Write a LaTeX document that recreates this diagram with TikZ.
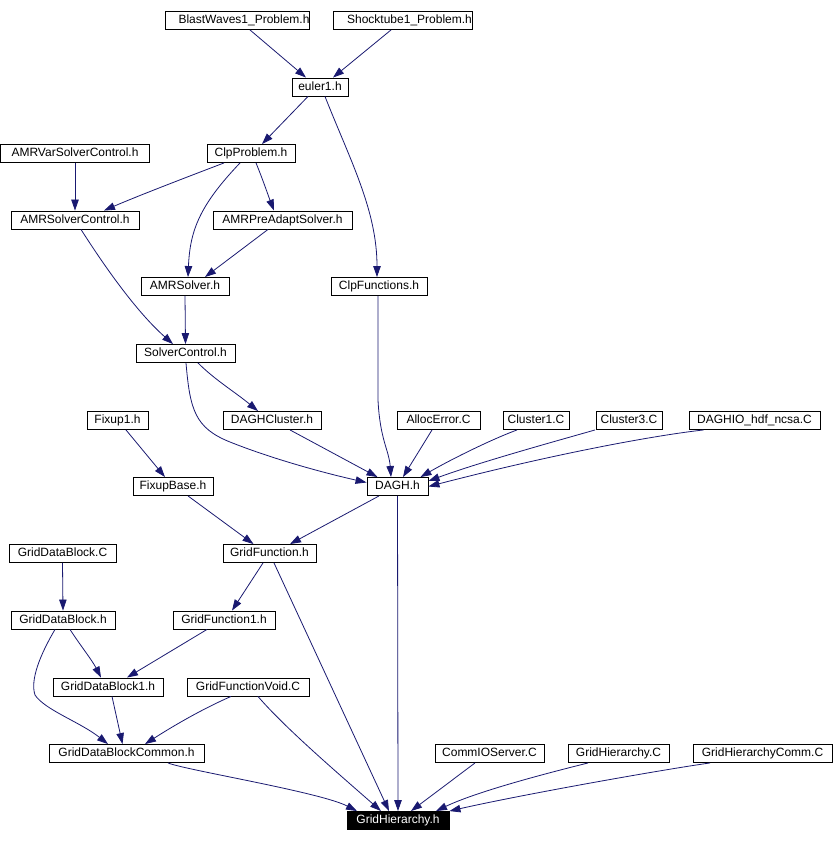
\documentclass[tikz,border=0pt]{standalone}
\usepackage{fontspec}
\setmainfont{Liberation Sans}
\usetikzlibrary{arrows.meta}
\definecolor{edgeblue}{HTML}{191970}
\tikzset{
  fbox/.style={draw=black, line width=0.9pt, inner sep=0pt, minimum height=18pt,
    text height=8.6pt, text depth=2.5pt, font=\fontsize{12}{14}\selectfont, fill=white},
  rootbox/.style={fbox, fill=black, text=white},
  dep/.style={draw=edgeblue, line width=0.8pt, -{Triangle[length=11pt,width=7.5pt]}},
}
\begin{document}
\begin{tikzpicture}[x=1pt,y=-1pt]
\useasboundingbox (0,0) rectangle (834,842);
% nodes
\node[fbox, minimum width=144pt] (bw)   at (237,20.5) {\hspace*{14pt}\makebox[0pt]{BlastWaves1\_Problem.h}};
\node[fbox, minimum width=139pt] (st)   at (402.5,20.5) {\hspace*{14pt}\makebox[0pt]{Shocktube1\_Problem.h}};
\node[fbox, minimum width=56pt]  (eul)  at (320,87) {euler1.h};
\node[fbox, minimum width=149pt] (avsc) at (75,153.5) {AMRVarSolverControl.h};
\node[fbox, minimum width=88pt]  (clpp) at (251,153.5) {ClpProblem.h};
\node[fbox, minimum width=128pt] (asc)  at (75,220) {AMRSolverControl.h};
\node[fbox, minimum width=139pt] (apas) at (282.5,220) {AMRPreAdaptSolver.h};
\node[fbox, minimum width=88pt]  (as)   at (185,286.5) {AMRSolver.h};
\node[fbox, minimum width=96pt]  (clpf) at (379,286.5) {ClpFunctions.h};
\node[fbox, minimum width=99pt]  (sc)   at (185.5,353.5) {SolverControl.h};
\node[fbox, minimum width=61pt]  (fx1)  at (117.5,420.5) {Fixup1.h};
\node[fbox, minimum width=98pt]  (dc)   at (272,420.5) {DAGHCluster.h};
\node[fbox, minimum width=83pt]  (ae)   at (438.5,420.5) {AllocError.C};
\node[fbox, minimum width=66pt]  (c1)   at (536,420.5) {Cluster1.C};
\node[fbox, minimum width=66pt]  (c3)   at (629,420.5) {Cluster3.C};
\node[fbox, minimum width=131pt] (dio)  at (754.5,420.5) {DAGHIO\_hdf\_ncsa.C};
\node[fbox, minimum width=80pt]  (fxb)  at (173,486.5) {FixupBase.h};
\node[fbox, minimum width=61pt]  (dagh) at (397.5,486.5) {DAGH.h};
\node[fbox, minimum width=107pt] (gdbc) at (62.5,553.5) {GridDataBlock.C};
\node[fbox, minimum width=93pt]  (gf)   at (269.5,553.5) {GridFunction.h};
\node[fbox, minimum width=104pt] (gdbh) at (63,620) {GridDataBlock.h};
\node[fbox, minimum width=102pt] (gf1)  at (224,620) {GridFunction1.h};
\node[fbox, minimum width=110pt] (gdb1) at (108,687) {GridDataBlock1.h};
\node[fbox, minimum width=122pt] (gfv)  at (248,687) {GridFunctionVoid.C};
\node[fbox, minimum width=155pt] (gdbx) at (126.5,753.5) {GridDataBlockCommon.h};
\node[fbox, minimum width=109pt] (cio)  at (489.5,753.5) {CommIOServer.C};
\node[fbox, minimum width=101pt] (ghc)  at (618.5,753.5) {GridHierarchy.C};
\node[fbox, minimum width=139pt] (ghcc) at (762.5,753.5) {GridHierarchyComm.C};
\node[rootbox, minimum width=102pt] (gh) at (398,820.5) {GridHierarchy.h};
% edges
\draw[dep] ([xshift=13pt]bw.south) -- ([xshift=-14pt]eul.north);
\draw[dep] ([xshift=-11.5pt]st.south) -- ([xshift=13pt]eul.north);
\draw[dep] ([xshift=-12pt]eul.south) -- ([xshift=11pt]clpp.north);
\draw[dep] ([xshift=5pt]eul.south) .. controls (350,160) and (377,210) .. ([xshift=-2pt]clpf.north);
\draw[dep] (avsc.south) -- (asc.north);
\draw[dep] ([xshift=-27pt]clpp.south) .. controls (195,174) and (140,195) .. ([xshift=29pt]asc.north);
\draw[dep] ([xshift=-11pt]clpp.south) .. controls (200,205) and (190,230) .. ([xshift=3pt]as.north);
\draw[dep] ([xshift=5pt]clpp.south) .. controls (263,180) and (268,195) .. ([xshift=-8.5pt]apas.north);
\draw[dep] ([xshift=-14.5pt]apas.south) -- ([xshift=20pt]as.north);
\draw[dep] ([xshift=6pt]asc.south) .. controls (110,275) and (140,315) .. ([xshift=-12.5pt]sc.north);
\draw[dep] (as.south) -- (sc.north);
\draw[dep] ([xshift=12.5pt]sc.south) .. controls (215,380) and (235,392) .. ([xshift=-14pt]dc.north);
\draw[dep] ([xshift=0.5pt]sc.south) .. controls (190,410) and (195,428) .. (230,442)
  .. controls (270,458) and (320,472) .. ([yshift=4pt]dagh.west);
\draw[dep] ([xshift=-1pt]clpf.south) -- (378,400) .. controls (380,440) and (389,450) .. ([xshift=-6.5pt]dagh.north);
\draw[dep] ([xshift=18pt]dc.south) -- ([xshift=-20pt]dagh.north);
\draw[dep] ([xshift=-6.5pt]ae.south) -- ([xshift=5.5pt]dagh.north);
\draw[dep] ([xshift=-19pt]c1.south) .. controls (490,440) and (450,460) .. ([xshift=23pt]dagh.north);
\draw[dep] ([xshift=-34pt]c3.south) .. controls (560,440) and (480,462) .. ([yshift=5.5pt]dagh.east);
\draw[dep] ([xshift=-51pt]dio.south) .. controls (650,436) and (550,455) .. ([yshift=0pt]dagh.east);
\draw[dep] ([xshift=8.5pt]fx1.south) -- ([xshift=-8pt]fxb.north);
\draw[dep] ([xshift=15pt]fxb.south) -- ([xshift=-16pt]gf.north);
\draw[dep] ([xshift=-18.5pt]dagh.south) -- ([xshift=20.5pt]gf.north);
\draw[dep] (dagh.south) -- (gh.north);
\draw[dep] (gdbc.south) -- (gdbh.north);
\draw[dep] ([xshift=-6.5pt]gf.south) -- ([xshift=8pt]gf1.north);
\draw[dep] ([xshift=4.5pt]gf.south) -- ([xshift=-9pt]gh.north);
\draw[dep] ([xshift=7pt]gdbh.south) .. controls (80,645) and (92,660) .. ([xshift=-7pt]gdb1.north);
\draw[dep] ([xshift=-8pt]gdbh.south) .. controls (40,655) and (30,680) .. (35,695)
  .. controls (45,710) and (80,722) .. ([xshift=-18.5pt]gdbx.north);
\draw[dep] ([xshift=-17pt]gf1.south) -- ([xshift=19pt]gdb1.north);
\draw[dep] ([xshift=4pt]gdb1.south) -- ([xshift=-4pt]gdbx.north);
\draw[dep] ([xshift=-17pt]gfv.south) .. controls (200,710) and (170,728) .. ([xshift=18.5pt]gdbx.north);
\draw[dep] ([xshift=10pt]gfv.south) .. controls (285,728) and (340,775) .. ([xshift=-17pt]gh.north);
\draw[dep] ([xshift=41.5pt]gdbx.south) .. controls (185,770) and (320,792) .. ([xshift=-41pt]gh.north);
\draw[dep] ([xshift=-14.5pt]cio.south) -- ([xshift=13pt]gh.north);
\draw[dep] ([xshift=-30.5pt]ghc.south) .. controls (560,770) and (480,790) .. ([xshift=38pt]gh.north);
\draw[dep] ([xshift=-52.5pt]ghcc.south) .. controls (660,770) and (520,795) .. (gh.north east);
\end{tikzpicture}
\end{document}
